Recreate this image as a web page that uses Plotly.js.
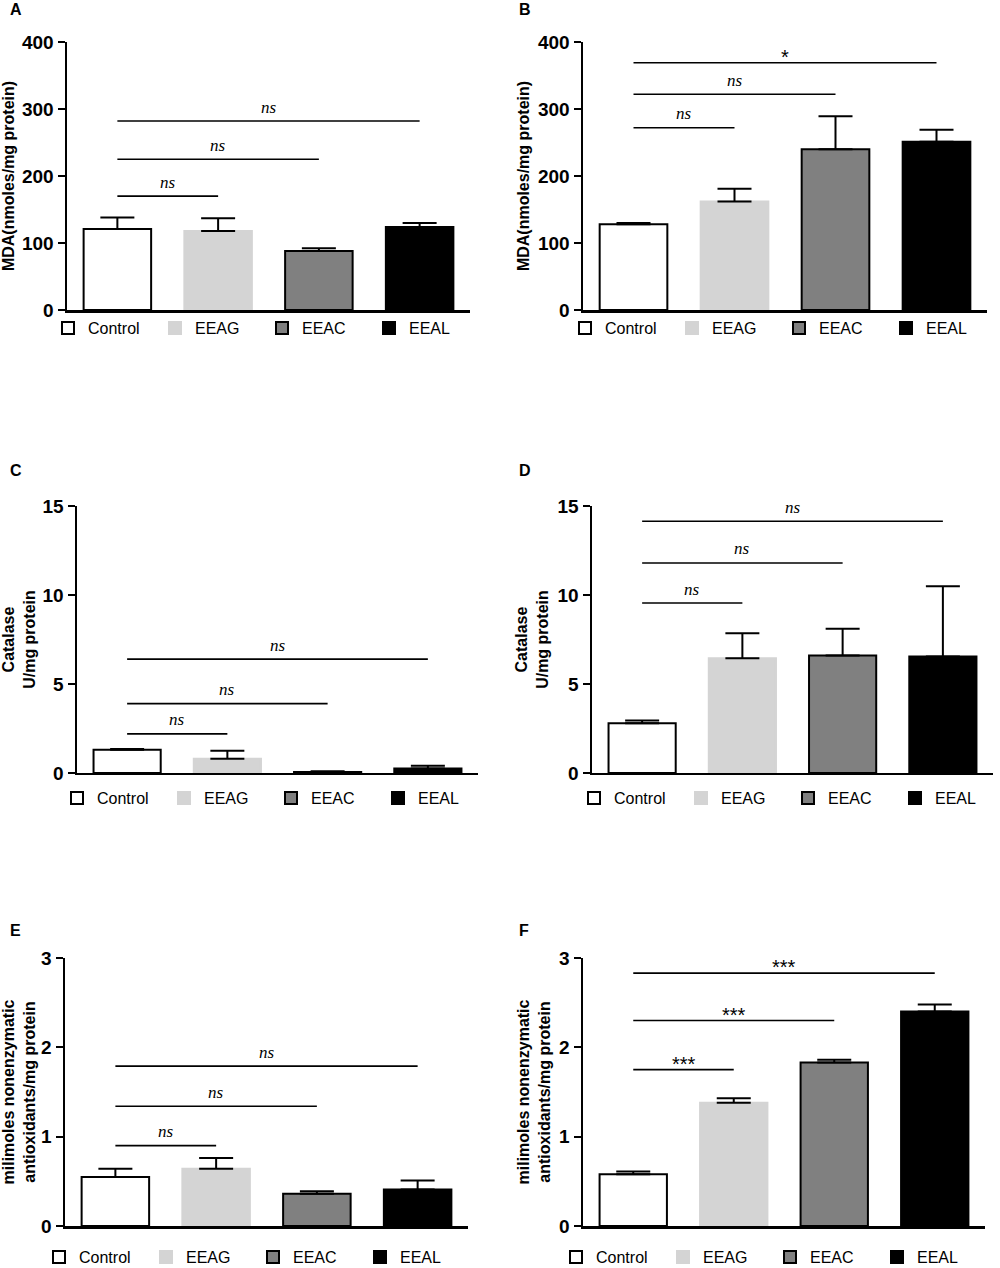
<!DOCTYPE html>
<html>
<head>
<meta charset="utf-8">
<script src="https://cdn.plot.ly/plotly-3.0.1.min.js"></script>
<style>
  body { margin: 0; background: #fff; }
  #chart { width: 1000px; height: 1268px; }
</style>
</head>
<body>
<div id="chart"></div>
<script>
// groups shared by every panel
const groups = ['Control', 'EEAG', 'EEAC', 'EEAL'];
const fills = ['#ffffff', '#d4d4d4', '#808080', '#000000'];
const outlines = ['#000000', '#d4d4d4', '#000000', '#000000'];

// A / B : MDA (nmoles/mg protein)
const mdaA = [121, 118, 88, 124];
const mdaASem = [17, 19, 4, 6];
const mdaB = [128, 162, 240, 251];
const mdaBSem = [2, 19, 49, 18];

// C / D : catalase (U/mg protein)
const catC = [1.3, 0.8, 0.05, 0.25];
const catCSem = [0.05, 0.45, 0.05, 0.15];
const catD = [2.8, 6.45, 6.6, 6.55];
const catDSem = [0.15, 1.4, 1.5, 3.95];

// E / F : nonenzymatic antioxidants (milimoles/mg protein)
const nonE = [0.55, 0.64, 0.36, 0.41];
const nonESem = [0.09, 0.12, 0.03, 0.10];
const nonF = [0.58, 1.38, 1.83, 2.40];
const nonFSem = [0.03, 0.05, 0.03, 0.08];

// comparison bars: Control vs EEAG, EEAC, EEAL
const sigA = [170, 225, 282];
const sigB = [272, 322, 369];
const sigC = [2.2, 3.9, 6.4];
const sigD = [9.55, 11.8, 14.15];
const sigE = [0.9, 1.34, 1.79];
const sigF = [1.75, 2.3, 2.83];
const sigTextA = ['ns', 'ns', 'ns'];
const sigTextB = ['ns', 'ns', '*'];
const sigTextC = ['ns', 'ns', 'ns'];
const sigTextD = ['ns', 'ns', 'ns'];
const sigTextE = ['ns', 'ns', 'ns'];
const sigTextF = ['***', '***', '***'];

const mdaTitle = 'MDA(nmoles/mg protein)';
const catTitle = 'Catalase<br>U/mg protein';
const nonTitle = 'milimoles nonenzymatic<br>antioxidants/mg protein';

const panels = [
    {tag: 'A', means: mdaA, sem: mdaASem, sig: sigA, sigText: sigTextA, range: [0, 400], dtick: 100, title: mdaTitle,
     dx: [0.067, 0.470], dy: [0.7555, 0.9669], legX: 48, legY: 328, tagX: 8, tagY: 10},
    {tag: 'B', means: mdaB, sem: mdaBSem, sig: sigB, sigText: sigTextB, range: [0, 400], dtick: 100, title: mdaTitle,
     dx: [0.583, 0.987], dy: [0.7555, 0.9669], legX: 565, legY: 328, tagX: 517, tagY: 10},
    {tag: 'C', means: catC, sem: catCSem, sig: sigC, sigText: sigTextC, range: [0, 15], dtick: 5, title: catTitle,
     dx: [0.077, 0.478], dy: [0.3904, 0.6009], legX: 57, legY: 798, tagX: 8, tagY: 470},
    {tag: 'D', means: catD, sem: catDSem, sig: sigD, sigText: sigTextD, range: [0, 15], dtick: 5, title: catTitle,
     dx: [0.592, 0.993], dy: [0.3904, 0.6009], legX: 574, legY: 798, tagX: 517, tagY: 470},
    {tag: 'E', means: nonE, sem: nonESem, sig: sigE, sigText: sigTextE, range: [0, 3], dtick: 1, title: nonTitle,
     dx: [0.065, 0.468], dy: [0.0331, 0.2445], legX: 39, legY: 1257, tagX: 8, tagY: 930},
    {tag: 'F', means: nonF, sem: nonFSem, sig: sigF, sigText: sigTextF, range: [0, 3], dtick: 1, title: nonTitle,
     dx: [0.583, 0.985], dy: [0.0331, 0.2445], legX: 556, legY: 1257, tagX: 517, tagY: 930},
];

const sans = 'Arial, "Liberation Sans", sans-serif';
const serif = '"Times New Roman", "Liberation Serif", serif';

let data = [];
let layout = {
    width: 1000,
    height: 1268,
    // legends sit outside the plots, they must not shrink them
    margin: {l: 0, r: 0, t: 0, b: 0, autoexpand: false},
    paper_bgcolor: '#ffffff',
    plot_bgcolor: 'rgba(0,0,0,0)',
    barmode: 'overlay',
    hovermode: false,
    annotations: [],
};

panels.forEach((p, i) => {
    const n = i === 0 ? '' : String(i + 1);
    const xa = 'x' + n, ya = 'y' + n;
    const leg = 'legend' + n;

    groups.forEach((g, k) => {
        data.push({
            type: 'bar',
            x: [g],
            y: [p.means[k]],
            name: g,
            width: 0.67,
            xaxis: xa,
            yaxis: ya,
            legend: leg,
            marker: {color: fills[k], line: {color: outlines[k], width: 2}},
            error_y: {
                type: 'data', symmetric: false,
                array: [p.sem[k]], arrayminus: [0],
                color: '#000', thickness: 2, width: 17,
            },
        });
    });

    // Control vs each treatment
    p.sig.forEach((h, k) => {
        data.push({
            type: 'scatter', mode: 'lines',
            x: [groups[0], groups[k + 1]],
            y: [h, h],
            xaxis: xa, yaxis: ya,
            showlegend: false,
            line: {color: '#000', width: 1.6},
        });
        const isStar = p.sigText[k].indexOf('*') >= 0;
        layout.annotations.push({
            xref: xa, yref: ya,
            x: (k + 1) / 2, y: h,
            text: p.sigText[k],
            showarrow: false,
            yanchor: 'middle',
            yshift: isStar ? 6 : 14,
            font: isStar ? {family: sans, size: 20, color: '#000'}
                         : {family: serif, size: 17, color: '#000', style: 'italic'},
        });
    });

    layout['xaxis' + n] = {
        domain: p.dx,
        anchor: ya,
        type: 'category',
        range: [-0.5, 3.5],
        showticklabels: false,
        ticks: '',
        showgrid: false,
        zeroline: false,
        showline: true,
        linecolor: '#000',
        linewidth: 2.5,
        fixedrange: true,
    };
    layout['yaxis' + n] = {
        domain: p.dy,
        anchor: xa,
        range: p.range,
        dtick: p.dtick,
        ticks: 'outside',
        ticklen: 7,
        tickwidth: 2,
        tickcolor: '#000',
        tickfont: {family: sans, size: 19, color: '#000', weight: 'bold'},
        showgrid: false,
        zeroline: false,
        showline: true,
        linecolor: '#000',
        linewidth: 2.5,
        fixedrange: true,
        title: {text: p.title, standoff: 5, font: {family: sans, size: 16, color: '#000', weight: 'bold'}},
    };
    layout[leg] = {
        orientation: 'h',
        x: p.legX / 1000,
        y: 1 - p.legY / 1268,
        xanchor: 'left',
        yanchor: 'middle',
        entrywidth: 62,
        entrywidthmode: 'pixels',
        traceorder: 'normal',
        bgcolor: 'rgba(0,0,0,0)',
        font: {family: sans, size: 16, color: '#000'},
    };
    layout.annotations.push({
        xref: 'paper', yref: 'paper',
        x: p.tagX / 1000, y: 1 - p.tagY / 1268,
        xanchor: 'left', yanchor: 'middle',
        text: '<b>' + p.tag + '</b>',
        showarrow: false,
        font: {family: sans, size: 16, color: '#000'},
    });
});

Plotly.newPlot('chart', data, layout, {displayModeBar: false, staticPlot: true});
</script>
</body>
</html>
